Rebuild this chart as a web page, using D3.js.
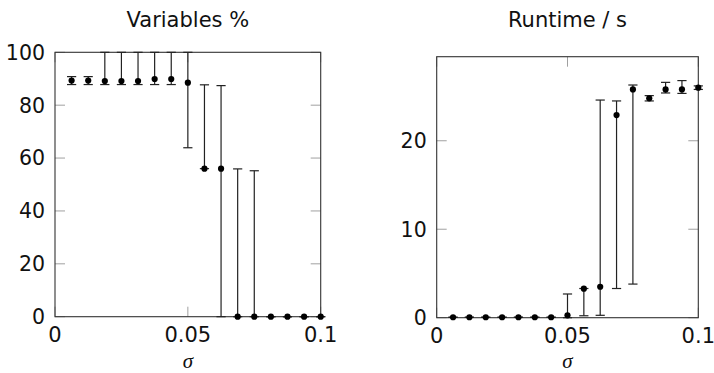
<!DOCTYPE html>
<html>
<head>
<meta charset="utf-8">
<script src="https://cdn.jsdelivr.net/npm/d3@7"></script>
<style>
  html, body { margin: 0; padding: 0; background: #fff; }
  svg { display: block; }
</style>
</head>
<body>
<svg id="chart" width="714" height="373"></svg>
<script>
// ---- data ----
const sigma = [0.00625, 0.0125, 0.01875, 0.025, 0.03125, 0.0375, 0.04375, 0.05,
               0.05625, 0.0625, 0.06875, 0.075, 0.08125, 0.0875, 0.09375, 0.1];

const varMean = [89.3, 89.3, 89.1, 89.1, 89.1, 89.9, 89.9, 88.5, 56.0, 56.0, 0, 0, 0, 0, 0, 0];
const varLow  = [87.8, 87.8, 87.8, 87.8, 87.8, 87.8, 87.8, 63.9, 56.0, 0, 0, 0, 0, 0, 0, 0];
const varHigh = [90.8, 90.8, 100, 100, 100, 100, 100, 100, 87.7, 87.4, 55.9, 55.2, 0, 0, 0, 0];

const rtMean = [0.05, 0.05, 0.05, 0.05, 0.05, 0.05, 0.05, 0.27, 3.28, 3.5, 22.9, 25.8, 24.8, 25.8, 25.8, 26.0];
const rtLow  = [0.05, 0.05, 0.05, 0.05, 0.05, 0.05, 0.05, 0.0, 0.22, 0.27, 3.3, 3.8, 24.5, 25.4, 25.35, 25.8];
const rtHigh = [0.05, 0.05, 0.05, 0.05, 0.05, 0.05, 0.05, 2.68, 3.3, 24.6, 24.5, 26.3, 25.1, 26.6, 26.8, 26.2];

const xTicks = [0, 0.05, 0.1];
const xTickLabels = ["0", "0.05", "0.1"];
const varTicks = [0, 20, 40, 60, 80, 100];
const rtTicks = [0, 10, 20];

const panels = [
  { title: "Variables %", mean: varMean, low: varLow, high: varHigh, ticks: varTicks,
    yMax: 100, left: 55, right: 320.7, top: 52.3, bottom: 316.7 },
  { title: "Runtime / s", mean: rtMean, low: rtLow, high: rtHigh, ticks: rtTicks,
    yMax: 29.5, left: 436.7, right: 698.3, top: 56.7, bottom: 317.7 }
];

const svg = d3.select("#chart");
svg.append("rect").attr("width", 714).attr("height", 373).attr("fill", "#fff");

const sans = "DejaVu Sans, sans-serif";
const tickLen = 10;
const capHalf = 4.6;
const ink = "#222";

panels.forEach(p => {
  const x = d3.scaleLinear().domain([0, 0.1]).range([p.left, p.right]);
  const y = d3.scaleLinear().domain([0, p.yMax]).range([p.bottom, p.top]);
  const g = svg.append("g");
  const cx = (p.left + p.right) / 2;

  // title
  g.append("text").attr("x", cx).attr("y", 26.7)
    .attr("text-anchor", "middle").attr("font-family", sans).attr("font-size", 21)
    .attr("fill", "#111").text(p.title);

  // ticks (inward, both sides) - gray
  const tg = g.append("g").attr("stroke", "#a0a0a0").attr("stroke-width", 1);
  p.ticks.forEach(t => {
    const yy = y(t);
    tg.append("line").attr("x1", p.left).attr("x2", p.left + tickLen).attr("y1", yy).attr("y2", yy);
    tg.append("line").attr("x1", p.right - tickLen).attr("x2", p.right).attr("y1", yy).attr("y2", yy);
  });
  xTicks.forEach(t => {
    const xx = x(t);
    tg.append("line").attr("x1", xx).attr("x2", xx).attr("y1", p.bottom).attr("y2", p.bottom - tickLen);
    tg.append("line").attr("x1", xx).attr("x2", xx).attr("y1", p.top).attr("y2", p.top + tickLen);
  });

  // frame
  g.append("rect").attr("x", p.left).attr("y", p.top)
    .attr("width", p.right - p.left).attr("height", p.bottom - p.top)
    .attr("fill", "none").attr("stroke", "#333").attr("stroke-width", 1.1);

  // y tick labels
  p.ticks.forEach(t => {
    g.append("text").attr("x", p.left - 10).attr("y", y(t))
      .attr("dy", "0.36em")
      .attr("text-anchor", "end").attr("font-family", sans).attr("font-size", 20.5)
      .attr("fill", "#111").text(t);
  });
  // x tick labels
  xTicks.forEach((t, i) => {
    g.append("text").attr("x", x(t)).attr("y", p.bottom + 25)
      .attr("text-anchor", "middle").attr("font-family", sans).attr("font-size", 21)
      .attr("fill", "#111").text(xTickLabels[i]);
  });
  // x axis label
  g.append("text").attr("x", cx).attr("y", 368)
    .attr("text-anchor", "middle").attr("font-family", "Liberation Serif, DejaVu Serif, serif")
    .attr("font-style", "italic").attr("font-size", 21)
    .attr("fill", "#111").text("σ");

  // error bars
  const eg = g.append("g").attr("stroke", ink).attr("stroke-width", 1.2).attr("fill", "none");
  sigma.forEach((s, i) => {
    const xx = x(s);
    const y1 = y(p.low[i]), y2 = y(p.high[i]);
    eg.append("line").attr("x1", xx).attr("x2", xx).attr("y1", y1).attr("y2", y2);
    eg.append("line").attr("x1", xx - capHalf).attr("x2", xx + capHalf).attr("y1", y1).attr("y2", y1);
    eg.append("line").attr("x1", xx - capHalf).attr("x2", xx + capHalf).attr("y1", y2).attr("y2", y2);
  });
  // points
  g.append("g").selectAll("circle").data(sigma).join("circle")
    .attr("cx", d => x(d)).attr("cy", (d, i) => y(p.mean[i]))
    .attr("r", 3.1).attr("fill", "#000");
});
</script>
</body>
</html>
